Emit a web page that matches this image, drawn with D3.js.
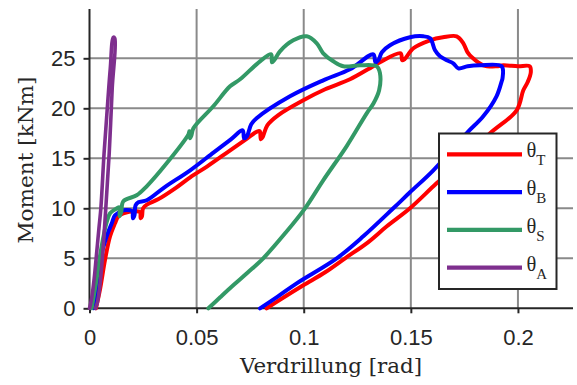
<!DOCTYPE html>
<html>
<head>
<meta charset="utf-8">
<script src="https://cdn.jsdelivr.net/npm/d3@7"></script>
<style>
html,body{margin:0;padding:0;background:#fff;}
svg{display:block;}
</style>
</head>
<body>
<svg id="chart" width="577" height="385"></svg>
<script>
// ---- data ----
const xTicks = [0, 0.05, 0.1, 0.15, 0.2];
const xTickLabels = ["0", "0.05", "0.1", "0.15", "0.2"];
const yTicks = [0, 5, 10, 15, 20, 25];
const yTickLabels = ["0", "5", "10", "15", "20", "25"];
const seriesNames = ["T", "B", "S", "A"];
const seriesColors = ["#ff0000", "#0000ff", "#339966", "#7e2f8e"];

const thetaT = [[0.003,0],[0.005,2],[0.0072,4.8],[0.0096,7.2],[0.0119,8.5],[0.0134,9.2],[0.0158,9.5],[0.022,9.7],[0.0236,9.6],[0.0239,9.0],[0.0245,9.2],[0.025,10.0],[0.027,10.4],[0.032,10.9],[0.04,12.0],[0.047,13.1],[0.055,14.2],[0.065,15.7],[0.073,16.9],[0.0785,17.7],[0.0795,17.7],[0.0800,16.9],[0.0808,17.1],[0.083,18.3],[0.088,19.3],[0.0998,20.8],[0.11,21.9],[0.1216,22.9],[0.13,23.9],[0.1356,24.6],[0.1452,25.5],[0.1460,24.8],[0.147,24.9],[0.1512,26.0],[0.159,26.8],[0.165,27.1],[0.1714,27.2],[0.1745,26.5],[0.1765,25.6],[0.1785,25.1],[0.1838,24.3],[0.19,24.2],[0.1932,24.3],[0.2,24.2],[0.2055,24.2],[0.206,23.6],[0.2045,22.6],[0.2025,21.8],[0.1994,19.8],[0.187,17.5],[0.175,15.0],[0.162,12.5],[0.1496,10.0],[0.1388,8.2],[0.13,6.6],[0.1193,5.0],[0.11,3.6],[0.0998,2.3],[0.09,1.0],[0.0827,0]];

const thetaB = [[0.002,0],[0.0035,2.5],[0.0049,4.8],[0.008,7.2],[0.0104,8.5],[0.0119,9.3],[0.0158,9.8],[0.019,9.8],[0.0200,9.7],[0.0203,9.0],[0.021,9.3],[0.0215,10.3],[0.0228,10.6],[0.0267,10.8],[0.035,12.1],[0.047,13.8],[0.058,15.6],[0.066,16.9],[0.0715,17.8],[0.0722,17.0],[0.0735,17.2],[0.0755,18.4],[0.078,19.0],[0.0936,21.2],[0.1091,22.8],[0.1216,23.9],[0.1325,25.4],[0.1335,24.6],[0.1348,24.8],[0.1365,25.6],[0.1403,26.3],[0.1496,27.1],[0.1558,27.2],[0.159,27.0],[0.1613,25.8],[0.1636,25.2],[0.1668,24.8],[0.1698,24.5],[0.1722,24.0],[0.1765,24.2],[0.1823,24.3],[0.1924,24.2],[0.1928,23.0],[0.1924,22.7],[0.19,21.2],[0.1838,19.2],[0.176,17.5],[0.1605,13.8],[0.1496,11.6],[0.1418,10.0],[0.1278,7.2],[0.1154,5.0],[0.0967,2.5],[0.088,1.2],[0.0796,0]];

const thetaS = [[0.001,0],[0.003,2.5],[0.0055,6],[0.008,8.6],[0.0096,9.5],[0.012,9.9],[0.0138,10.1],[0.0141,9.2],[0.0148,9.6],[0.0158,10.7],[0.022,11.3],[0.0267,12.2],[0.036,14.5],[0.0462,17.4],[0.0466,17.7],[0.0469,17.0],[0.0476,17.3],[0.0485,18.0],[0.0578,20.2],[0.0656,22.2],[0.0703,22.9],[0.0796,24.7],[0.0848,25.4],[0.0852,24.6],[0.0862,24.8],[0.0889,25.7],[0.0951,26.8],[0.1014,27.2],[0.1061,26.5],[0.1091,25.5],[0.1138,24.7],[0.1185,24.2],[0.1263,24.3],[0.1341,24.2],[0.1356,23.5],[0.1352,21.8],[0.1326,20.5],[0.1294,19.5],[0.12,16.2],[0.1091,12.8],[0.1006,10.0],[0.0913,7.5],[0.0811,5.0],[0.074,3.6],[0.0671,2.3],[0.061,1.1],[0.0555,0]];

const thetaA = [[0,0],[0.001,1],[0.0022,3],[0.0031,5],[0.0044,8],[0.0053,10],[0.0068,15.5],[0.0083,20],[0.0097,24],[0.0111,27.1],[0.0118,27.0],[0.0106,22],[0.0092,15.5],[0.0076,10],[0.006,5],[0.0047,2],[0.0036,0.5],[0.0028,0]];

const allSeries = [thetaT, thetaB, thetaS, thetaA];

// ---- layout ----
const svg = d3.select("#chart");
const mLeft = 89.5, mRight = 573, mTop = 9, mBottom = 308.3;
const x = d3.scaleLinear().domain([0, 0.2257]).range([mLeft, mRight]);
const y = d3.scaleLinear().domain([0, 29.93]).range([mBottom, mTop]);

const gridColor = "#8a8a8a";
const axisColor = "#262626";

// grid
const grid = svg.append("g");
grid.selectAll("line.v").data(xTicks.slice(1)).enter().append("line")
  .attr("x1", d => x(d)).attr("x2", d => x(d))
  .attr("y1", mTop).attr("y2", mBottom)
  .attr("stroke", gridColor).attr("stroke-width", 2);
grid.selectAll("line.h").data(yTicks.slice(1)).enter().append("line")
  .attr("x1", mLeft).attr("x2", mRight)
  .attr("y1", d => y(d)).attr("y2", d => y(d))
  .attr("stroke", gridColor).attr("stroke-width", 2);

// axes
const xAxis = d3.axisBottom(x).tickValues(xTicks).tickFormat((d,i) => xTickLabels[i]).tickSize(5).tickPadding(16).tickSizeOuter(0);
const yAxis = d3.axisLeft(y).tickValues(yTicks).tickFormat((d,i) => yTickLabels[i]).tickSize(6).tickPadding(8).tickSizeOuter(0);

const gx = svg.append("g").attr("transform", `translate(0,${mBottom})`).call(xAxis);
const gy = svg.append("g").attr("transform", `translate(${mLeft},0)`).call(yAxis);
[gx, gy].forEach(g => {
  g.select(".domain").attr("stroke", axisColor).attr("stroke-width", 2);
  g.selectAll(".tick line").attr("stroke", axisColor).attr("stroke-width", 2);
  g.selectAll(".tick text").attr("fill", "#262626")
    .style("font-family", "'Liberation Sans', Arial, sans-serif").style("font-size", "22px");
});
gx.select(".domain").attr("d", `M${mLeft},0H${mRight}`);
gy.select(".domain").attr("d", `M0,${mTop}V${mBottom}`);

// curves
const line = d3.line().x(d => x(d[0])).y(d => y(d[1])).curve(d3.curveCatmullRom.alpha(0.5));
const plot = svg.append("g");
allSeries.forEach((s, i) => {
  plot.append("path").datum(s).attr("d", line)
    .attr("fill", "none").attr("stroke", seriesColors[i])
    .attr("stroke-width", i === 3 ? 3.6 : 4)
    .attr("stroke-linejoin", "round").attr("stroke-linecap", "round");
});

// axis titles
svg.append("text").attr("x", 331).attr("y", 372.5).attr("text-anchor", "middle")
  .attr("textLength", 182).attr("lengthAdjust", "spacingAndGlyphs")
  .style("font-family", "'DejaVu Serif', serif").style("font-size", "21px").attr("fill", "#262626")
  .text("Verdrillung [rad]");
svg.append("text").attr("transform", "translate(33,160) rotate(-90)").attr("text-anchor", "middle")
  .attr("textLength", 167).attr("lengthAdjust", "spacingAndGlyphs")
  .style("font-family", "'DejaVu Serif', serif").style("font-size", "21px").attr("fill", "#262626")
  .text("Moment [kNm]");

// legend
const lg = svg.append("g");
lg.append("rect").attr("x", 439).attr("y", 133.5).attr("width", 117.5).attr("height", 155.5)
  .attr("fill", "#fff").attr("stroke", axisColor).attr("stroke-width", 2);
const legendY = d3.scalePoint().domain(seriesNames).range([154.3, 267.7]);
seriesNames.forEach((n, i) => {
  const yy = legendY(n);
  lg.append("line").attr("x1", 447).attr("x2", 522).attr("y1", yy).attr("y2", yy)
    .attr("stroke", seriesColors[i]).attr("stroke-width", 4.3);
  const t = lg.append("text").attr("x", 526.5).attr("y", yy + 3)
    .style("font-family", "'Liberation Serif', serif").style("font-size", "20.5px").attr("fill", "#262626");
  t.append("tspan").text("θ");
  t.append("tspan").attr("dy", 8).style("font-size", "15px").text(n);
});
</script>
</body>
</html>
